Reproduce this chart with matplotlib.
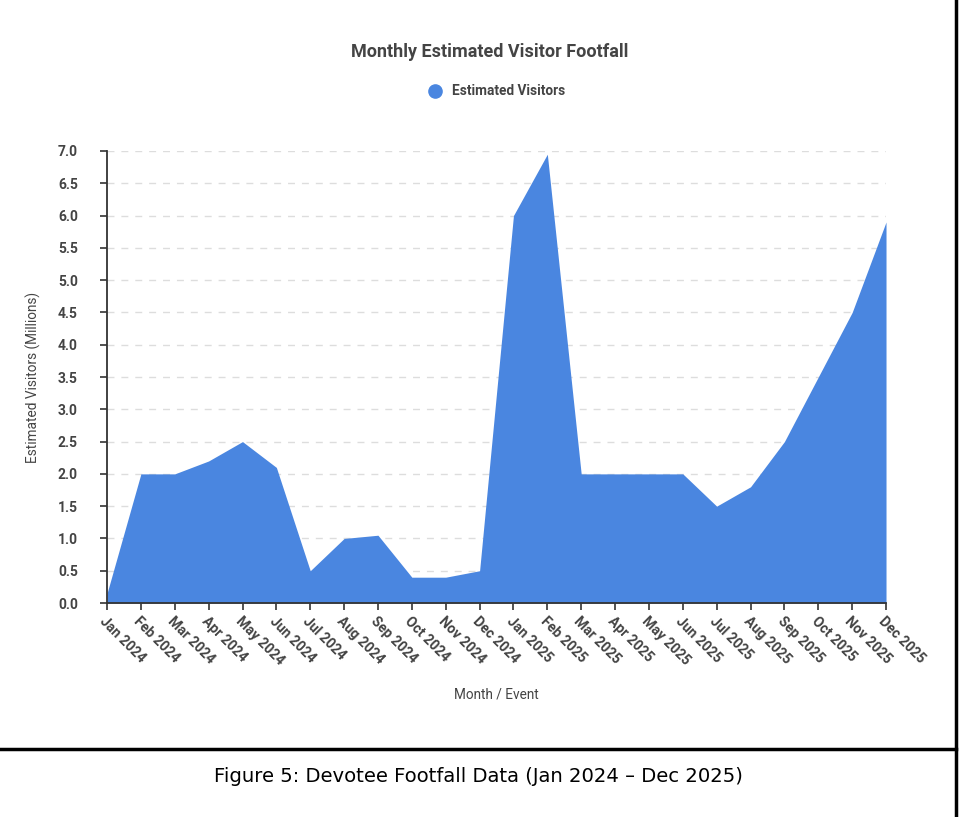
import matplotlib
matplotlib.use('Agg')
import matplotlib.pyplot as plt
from matplotlib.lines import Line2D

# 数据
months = ["Jan 2024", "Feb 2024", "Mar 2024", "Apr 2024", "May 2024", "Jun 2024",
          "Jul 2024", "Aug 2024", "Sep 2024", "Oct 2024", "Nov 2024", "Dec 2024",
          "Jan 2025", "Feb 2025", "Mar 2025", "Apr 2025", "May 2025", "Jun 2025",
          "Jul 2025", "Aug 2025", "Sep 2025", "Oct 2025", "Nov 2025", "Dec 2025"]
visitors = [0.15, 2.0, 2.0, 2.2, 2.5, 2.1,
            0.5, 1.0, 1.05, 0.4, 0.4, 0.5,
            6.0, 6.95, 2.0, 2.0, 2.0, 2.0,
            1.5, 1.8, 2.5, 3.5, 4.5, 5.9]
y_ticks = [0.0, 0.5, 1.0, 1.5, 2.0, 2.5, 3.0, 3.5, 4.0, 4.5, 5.0, 5.5, 6.0, 6.5, 7.0]

FILL = '#4a86e0'
TXT = '#444444'
plt.rcParams['font.family'] = ['Roboto', 'DejaVu Sans']

fig = plt.figure(figsize=(9.59, 8.17), dpi=100)
ax = fig.add_axes([0.1116, 0.2619, 0.8123, 0.5533])

x = list(range(len(months)))
ax.fill_between(x, visitors, 0, color=FILL, linewidth=0, zorder=2)

ax.set_xlim(0, len(months) - 1)
ax.set_ylim(0, 7.0)
ax.set_yticks(y_ticks)
ax.set_yticklabels([f"{v:.1f}" for v in y_ticks], fontsize=10, fontweight='bold', color=TXT)
ax.set_xticks(x)
ax.set_xticklabels(months, rotation=-45, ha='left', va='top', rotation_mode='anchor',
                   fontsize=10, fontweight='bold', color=TXT)

ax.grid(axis='y', color='#dddddd', linestyle=(0, (5, 5)), linewidth=1, zorder=1)
for s in ['top', 'right']:
    ax.spines[s].set_visible(False)
for s in ['left', 'bottom']:
    ax.spines[s].set_color('#333333')
    ax.spines[s].set_linewidth(1.3)
ax.tick_params(axis='both', colors='#333333', length=5, width=1.2, labelcolor=TXT)
ax.tick_params(axis='y', pad=16)
ax.tick_params(axis='x', pad=3)

ax.set_ylabel("Estimated Visitors (Millions)", fontsize=9.8, color=TXT, labelpad=12)
ax.set_xlabel("Month / Event", fontsize=9.8, color=TXT, labelpad=14)

fig.text(0.511, 0.936, "Monthly Estimated Visitor Footfall", ha='center', va='center',
         fontsize=13, fontweight='bold', color=TXT)
fig.add_artist(Line2D([0.4536], [0.8886], marker='o', markersize=9.5, color=FILL,
                      linestyle='none', transform=fig.transFigure))
fig.text(0.4713, 0.8886, "Estimated Visitors", ha='left', va='center',
         fontsize=9.8, fontweight='bold', color=TXT)

# 边框和图注
fig.add_artist(Line2D([0, 0.9969], [0.0832, 0.0832], color='black', linewidth=2.5,
                      transform=fig.transFigure))
fig.add_artist(Line2D([0.9969, 0.9969], [0, 1], color='black', linewidth=2.5,
                      transform=fig.transFigure))
fig.text(0.4985, 0.050, "Figure 5: Devotee Footfall Data (Jan 2024 \u2013 Dec 2025)",
         ha='center', va='center', fontsize=14.1, color='black', family='DejaVu Sans')

fig.savefig("out.png", dpi=100)
